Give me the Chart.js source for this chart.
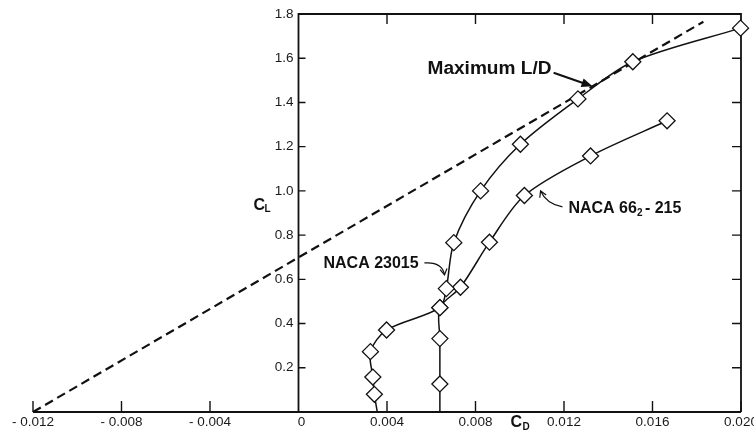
<!DOCTYPE html>
<html>
<head>
<meta charset="utf-8">
<script src="https://cdn.jsdelivr.net/npm/chart.js@4"></script>
<style>
  body { margin: 0; background: #fff; }
</style>
</head>
<body>
<canvas id="polar" width="754" height="443"></canvas>
<script>
// axis ticks
const cdTicks = [-0.012, -0.008, -0.004, 0, 0.004, 0.008, 0.012, 0.016, 0.020];
const cdLabels = ['- 0.012', '- 0.008', '- 0.004', '0', '0.004', '0.008', '0.012', '0.016', '0.020'];
const clTicks = [0.2, 0.4, 0.6, 0.8, 1.0, 1.2, 1.4, 1.6, 1.8];
const clLabels = ['0.2', '0.4', '0.6', '0.8', '1.0', '1.2', '1.4', '1.6', '1.8'];

// NACA 23015 drag polar
const cd23015 = [0.00356, 0.00343, 0.00336, 0.00325, 0.00398, 0.00639, 0.00668, 0.00702, 0.00823, 0.01003, 0.01263, 0.01511, 0.01998];
const cl23015 = [0, 0.080, 0.158, 0.273, 0.371, 0.472, 0.558, 0.766, 1.000, 1.211, 1.416, 1.584, 1.736];

// NACA 66(2)-215 drag polar
const cd66215 = [0.00639, 0.00639, 0.00639, 0.00639, 0.00732, 0.00863, 0.01021, 0.01320, 0.01666];
const cl66215 = [0, 0.127, 0.332, 0.472, 0.564, 0.768, 0.979, 1.158, 1.317];

// tangent line for max L/D
const cdTangent = [-0.012, 0.0183];
const clTangent = [0, 1.765];

const ink = '#111';

function pts(xs, ys) {
  return xs.map((x, i) => ({ x: x, y: ys[i] }));
}
function radii(n) {
  return Array.from({ length: n }, (_, i) => (i === 0 ? 0 : 8));
}

function arrowHead(ctx, fx, fy, tx, ty, len, half, filled) {
  const a = Math.atan2(ty - fy, tx - fx);
  const p1 = [tx - len * Math.cos(a) + half * Math.sin(a), ty - len * Math.sin(a) - half * Math.cos(a)];
  const p2 = [tx - len * Math.cos(a) - half * Math.sin(a), ty - len * Math.sin(a) + half * Math.cos(a)];
  ctx.beginPath();
  if (filled) {
    ctx.moveTo(tx, ty); ctx.lineTo(p1[0], p1[1]); ctx.lineTo(p2[0], p2[1]); ctx.closePath(); ctx.fill();
  } else {
    ctx.moveTo(p1[0], p1[1]); ctx.lineTo(tx, ty); ctx.lineTo(p2[0], p2[1]); ctx.stroke();
  }
}

const framePlugin = {
  id: 'frame',
  beforeDatasetsDraw(chart) {
    const ctx = chart.ctx;
    const xs = chart.scales.x, ys = chart.scales.y;
    const x0 = xs.getPixelForValue(0), xMin = xs.getPixelForValue(-0.012), xMax = xs.getPixelForValue(0.020);
    const y0 = ys.getPixelForValue(0), yTop = ys.getPixelForValue(1.8);
    ctx.save();
    ctx.strokeStyle = ink;
    ctx.lineWidth = 1.8;
    ctx.beginPath();
    ctx.moveTo(xMin, y0); ctx.lineTo(xMax, y0);
    ctx.moveTo(x0, y0); ctx.lineTo(x0, yTop); ctx.lineTo(xMax, yTop); ctx.lineTo(xMax, y0);
    ctx.stroke();

    ctx.lineWidth = 1.4;
    ctx.beginPath();
    cdTicks.forEach(v => {
      if (v === 0) return;
      const px = xs.getPixelForValue(v);
      ctx.moveTo(px, y0); ctx.lineTo(px, y0 - 11);
      if (v > 0 && v < 0.020) { ctx.moveTo(px, yTop); ctx.lineTo(px, yTop + 10); }
    });
    clTicks.forEach(v => {
      if (v >= 1.8) return;
      const py = ys.getPixelForValue(v);
      ctx.moveTo(x0, py); ctx.lineTo(x0 + 7, py);
      ctx.moveTo(xMax, py); ctx.lineTo(xMax - 9, py);
    });
    ctx.stroke();

    ctx.fillStyle = '#1a1a1a';
    ctx.font = '13.5px "Liberation Sans", Arial, sans-serif';
    ctx.textBaseline = 'middle';
    ctx.textAlign = 'center';
    cdTicks.forEach((v, i) => {
      ctx.fillText(cdLabels[i], xs.getPixelForValue(v) + (v === 0 ? 3 : 0), y0 + 10);
    });
    ctx.textAlign = 'right';
    clTicks.forEach((v, i) => {
      ctx.fillText(clLabels[i], x0 - 5, ys.getPixelForValue(v));
    });
    ctx.restore();
  },
  afterDatasetsDraw(chart) {
    const ctx = chart.ctx;
    const xs = chart.scales.x, ys = chart.scales.y;
    const X = v => xs.getPixelForValue(v), Y = v => ys.getPixelForValue(v);
    ctx.save();
    ctx.fillStyle = ink;
    ctx.strokeStyle = ink;
    ctx.textBaseline = 'middle';
    ctx.textAlign = 'left';

    // axis titles
    ctx.font = 'bold 16px "Liberation Sans", Arial, sans-serif';
    ctx.fillText('C', X(-0.00203), Y(0.934));
    ctx.fillText('C', X(0.00958), Y(-0.0475));
    ctx.font = 'bold 10px "Liberation Sans", Arial, sans-serif';
    ctx.fillText('L', X(-0.00203) + 11, Y(0.934) + 4);
    ctx.fillText('D', X(0.00958) + 12, Y(-0.0475) + 5);

    // Maximum L/D
    ctx.font = 'bold 18px "Liberation Sans", Arial, sans-serif';
    const t1 = 'Maximum L/D';
    const w1 = ctx.measureText(t1).width;
    ctx.save();
    ctx.translate(X(0.00583), Y(1.550));
    ctx.scale(124 / w1, 1);
    ctx.fillText(t1, 0, 0);
    ctx.restore();
    ctx.lineWidth = 2;
    const ax1 = X(0.01153), ay1 = Y(1.534), tx1 = X(0.01329), ty1 = Y(1.473);
    ctx.beginPath(); ctx.moveTo(ax1, ay1); ctx.lineTo(tx1 - 6, ty1 - 2); ctx.stroke();
    arrowHead(ctx, ax1, ay1, tx1, ty1, 11, 4.5, true);

    // NACA 23015
    ctx.font = 'bold 16px "Liberation Sans", Arial, sans-serif';
    ctx.fillText('NACA 23015', X(0.00113), Y(0.672));
    ctx.lineWidth = 1.2;
    const bx = X(0.00569), by = Y(0.674), cx = X(0.00650), cy = Y(0.680), ex = X(0.0066), ey = Y(0.62);
    ctx.beginPath(); ctx.moveTo(bx, by); ctx.quadraticCurveTo(cx, cy, ex, ey); ctx.stroke();
    arrowHead(ctx, cx, cy, ex, ey, 6, 3.5, false);

    // NACA 66(2)-215
    const nx = X(0.0122), ny = Y(0.921);
    ctx.font = 'bold 16px "Liberation Sans", Arial, sans-serif';
    ctx.fillText('NACA 66', nx, ny);
    const w2 = ctx.measureText('NACA 66').width;
    ctx.font = 'bold 10px "Liberation Sans", Arial, sans-serif';
    ctx.fillText('2', nx + w2, ny + 5);
    ctx.font = 'bold 16px "Liberation Sans", Arial, sans-serif';
    ctx.fillText('- 215', nx + w2 + 8, ny);
    const sx = X(0.01193), sy = Y(0.928), qx = X(0.01120), qy = Y(0.942), fx = X(0.01094), fy = Y(1.0);
    ctx.beginPath(); ctx.moveTo(sx, sy); ctx.quadraticCurveTo(qx, qy, fx, fy); ctx.stroke();
    arrowHead(ctx, qx, qy, fx, fy, 6, 3.5, false);
    ctx.restore();
  }
};

new Chart(document.getElementById('polar').getContext('2d'), {
  type: 'scatter',
  data: {
    datasets: [
      {
        label: 'NACA 23015',
        data: pts(cd23015, cl23015),
        showLine: true,
        borderColor: ink,
        borderWidth: 1.5,
        tension: 0.3,
        pointStyle: 'rectRot',
        pointRadius: radii(cd23015.length),
        pointBackgroundColor: '#fff',
        pointBorderColor: ink,
        pointBorderWidth: 1.3,
        clip: false
      },
      {
        label: 'NACA 66-215',
        data: pts(cd66215, cl66215),
        showLine: true,
        borderColor: ink,
        borderWidth: 1.5,
        tension: 0.3,
        pointStyle: 'rectRot',
        pointRadius: radii(cd66215.length),
        pointBackgroundColor: '#fff',
        pointBorderColor: ink,
        pointBorderWidth: 1.3,
        clip: false
      },
      {
        label: 'Maximum L/D',
        data: pts(cdTangent, clTangent),
        showLine: true,
        borderColor: ink,
        borderWidth: 2.2,
        borderDash: [9, 5],
        pointRadius: 0,
        clip: false
      }
    ]
  },
  options: {
    responsive: false,
    animation: false,
    events: [],
    layout: { padding: { left: 33, right: 13, top: 14, bottom: 31 } },
    plugins: { legend: { display: false }, tooltip: { enabled: false } },
    scales: {
      x: { type: 'linear', min: -0.012, max: 0.020, display: false },
      y: { type: 'linear', min: 0, max: 1.8, display: false }
    }
  },
  plugins: [framePlugin]
});
</script>
</body>
</html>
